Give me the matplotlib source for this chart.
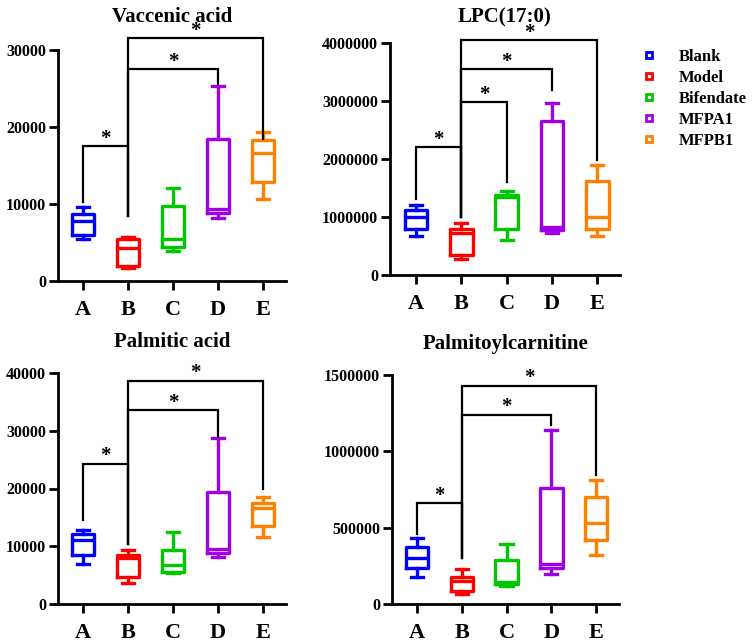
import matplotlib
matplotlib.use("Agg")
import matplotlib.pyplot as plt
from matplotlib.lines import Line2D

plt.rcParams['font.family'] = ['Liberation Serif', 'DejaVu Serif']
plt.rcParams['font.weight'] = 'bold'

groups = ['A', 'B', 'C', 'D', 'E']
legend_labels = ['Blank', 'Model', 'Bifendate', 'MFPA1', 'MFPB1']
colors = ['#0000FF', '#FF0000', '#00C800', '#A000E6', '#FF8000']

# five-number summaries per group: [whislo, q1, median, q3, whishi]
vaccenic = [[5400, 6000, 7800, 8700, 9600],
            [1700, 1950, 4300, 5400, 5750],
            [3900, 4400, 5450, 9700, 12100],
            [8200, 8800, 9350, 18400, 25300],
            [10700, 12900, 16600, 18300, 19300]]
lpc = [[670000, 800000, 1000000, 1120000, 1200000],
       [270000, 350000, 720000, 800000, 900000],
       [600000, 800000, 1340000, 1380000, 1450000],
       [720000, 770000, 820000, 2660000, 2960000],
       [670000, 800000, 1000000, 1620000, 1900000]]
palmitic = [[6900, 8400, 11000, 12100, 12900],
            [3600, 4700, 7900, 8500, 9400],
            [5300, 5600, 6800, 9400, 12400],
            [8200, 8800, 9500, 19400, 28700],
            [11600, 13500, 16600, 17500, 18600]]
palmitoyl = [[180000, 234000, 300000, 375000, 430000],
             [65000, 87000, 150000, 175000, 227000],
             [118000, 129000, 146000, 290000, 390000],
             [197000, 234000, 260000, 758000, 1140000],
             [320000, 420000, 530000, 700000, 810000]]

titles = ['Vaccenic acid', 'LPC(17:0)', 'Palmitic acid', 'Palmitoylcarnitine']
yticks = [[0, 10000, 20000, 30000],
          [0, 1000000, 2000000, 3000000, 4000000],
          [0, 10000, 20000, 30000, 40000],
          [0, 500000, 1000000, 1500000]]

# significance brackets vs group B: (group index, bracket height, leg bottom of group, leg bottom of B)
vac_brackets = [(0, 17500, 10300, 8400), (3, 27500, 25600, 8400), (4, 31500, 18400, 8400)]
lpc_brackets = [(0, 2200000, 1310000, 1000000), (2, 2980000, 1610000, 1000000),
                (3, 3550000, 3190000, 1000000), (4, 4050000, 1990000, 1000000)]
pal_brackets = [(0, 24300, 14600, 10400), (3, 33600, 28900, 10400), (4, 38700, 19900, 10400)]
pcar_brackets = [(0, 660000, 460000, 300000), (3, 1240000, 1170000, 300000), (4, 1430000, 845000, 300000)]

W, H = 754, 641
fig = plt.figure(figsize=(W / 100, H / 100), dpi=100)

def frac(left, right, top, bottom):
    return [left / W, 1 - bottom / H, (right - left) / W, (bottom - top) / H]

positions = [frac(58, 285.5, 50, 281), frac(390, 620, 43, 275),
             frac(58, 285.5, 373, 604), frac(392, 618.5, 375, 604)]
xlims = [(-0.556, 4.5), (-0.575, 4.5), (-0.556, 4.5), (-0.556, 4.5)]
title_pads = [20, 15, 19, 19]
datasets = [vaccenic, lpc, palmitic, palmitoyl]
brackets = [vac_brackets, lpc_brackets, pal_brackets, pcar_brackets]

for k in range(4):
    ax = fig.add_axes(positions[k])
    data = datasets[k]
    stats = [{'whislo': d[0], 'q1': d[1], 'med': d[2], 'q3': d[3], 'whishi': d[4],
              'fliers': [], 'label': g} for d, g in zip(data, groups)]
    res = ax.bxp(stats, positions=range(5), widths=0.5, capwidths=0.27,
                 showfliers=False, manage_ticks=False)
    for i, c in enumerate(colors):
        res['boxes'][i].set(color=c, linewidth=2.4)
        res['medians'][i].set(color=c, linewidth=2.4)
        for art in res['whiskers'][2 * i:2 * i + 2] + res['caps'][2 * i:2 * i + 2]:
            art.set(color=c, linewidth=2.4)
    B = 1
    for (gi, h, lo_g, lo_b) in brackets[k]:
        ax.plot([gi, gi, B, B], [lo_g, h, h, lo_b], color='black', lw=1.6,
                clip_on=False, solid_joinstyle='miter')
        ax.annotate('*', xy=((gi + B) / 2, h), xytext=(0, -2), textcoords='offset points',
                    ha='center', va='bottom', fontsize=15, fontweight='bold',
                    annotation_clip=False)
    ax.set_xlim(*xlims[k])
    ax.set_ylim(0, yticks[k][-1])
    ax.set_xticks(range(5))
    ax.set_xticklabels(groups, fontsize=16, fontweight='bold')
    ax.set_yticks(yticks[k])
    ax.set_yticklabels([str(v) for v in yticks[k]], fontsize=11.5, fontweight='bold')
    for s in ['top', 'right']:
        ax.spines[s].set_visible(False)
    for s in ['left', 'bottom']:
        ax.spines[s].set_linewidth(2.0)
    ax.tick_params(axis='x', length=6.5, width=2.0, pad=7)
    ax.tick_params(axis='y', length=6.5, width=2.0, pad=2)
    ax.set_title(titles[k], fontsize=15, fontweight='bold', pad=title_pads[k])

handles = [Line2D([], [], marker='s', linestyle='none', markerfacecolor='white',
                  markeredgecolor=c, markersize=5, markeredgewidth=2) for c in colors]
fig.legend(handles, legend_labels, loc='upper left', bbox_to_anchor=(0.85, 0.924),
           frameon=False, handlelength=1.0, handletextpad=1.3,
           labelspacing=0.3, borderpad=0, borderaxespad=0,
           prop={'weight': 'bold', 'size': 12})

fig.savefig('out.png', dpi=100)
